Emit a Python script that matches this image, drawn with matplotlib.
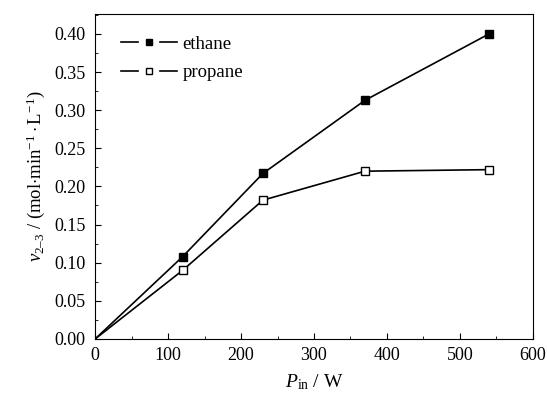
import matplotlib
matplotlib.use("Agg")
import matplotlib.pyplot as plt
from matplotlib.ticker import MultipleLocator, FormatStrFormatter
from matplotlib.legend_handler import HandlerBase
from matplotlib.lines import Line2D

plt.rcParams['font.family'] = ['Liberation Serif', 'DejaVu Serif']
plt.rcParams['mathtext.fontset'] = 'custom'
plt.rcParams['mathtext.rm'] = 'Liberation Serif'
plt.rcParams['mathtext.it'] = 'Liberation Serif:italic'

power = [0, 120, 230, 370, 540]
ethane = [0.0, 0.108, 0.217, 0.313, 0.400]
propane = [0.0, 0.090, 0.182, 0.220, 0.222]


class GapHandler(HandlerBase):
    def create_artists(self, legend, orig_handle, xdescent, ydescent,
                       width, height, fontsize, trans):
        y = height / 2 - ydescent
        x0 = -xdescent
        x1 = x0 + width
        xm = (x0 + x1) / 2
        gap = width * 0.2
        l1 = Line2D([x0, xm - gap], [y, y], color='black', lw=1.2)
        l2 = Line2D([xm + gap, x1], [y, y], color='black', lw=1.2)
        m = Line2D([xm], [y], marker='s', ms=4.2, mfc=orig_handle.get_markerfacecolor(),
                   mec='black', mew=1.0, ls='none')
        arts = [l1, l2, m]
        for a in arts:
            a.set_transform(trans)
        return arts


fig = plt.figure(figsize=(5.47, 4.03), dpi=100)
ax = fig.add_axes([0.174, 0.159, 0.800, 0.806])

h1, = ax.plot(power, ethane, color='black', lw=1.2, marker='s', ms=5.6,
              mfc='black', mec='black', markevery=[1, 2, 3, 4], label='ethane')
h2, = ax.plot(power, propane, color='black', lw=1.2, marker='s', ms=5.6,
              mfc='white', mec='black', markevery=[1, 2, 3, 4], label='propane')

ax.set_xlim(0, 600)
ax.set_ylim(0, 0.426)
ax.xaxis.set_major_locator(MultipleLocator(100))
ax.xaxis.set_minor_locator(MultipleLocator(50))
ax.yaxis.set_major_locator(MultipleLocator(0.05))
ax.yaxis.set_minor_locator(MultipleLocator(0.025))
ax.yaxis.set_major_formatter(FormatStrFormatter('%.2f'))
ax.tick_params(which='both', direction='in', top=False, right=False, labelsize=13)
ax.tick_params(axis='y', which='major', pad=7)
ax.tick_params(axis='x', which='major', pad=6)
ax.tick_params(which='major', length=4)
ax.tick_params(which='minor', length=2)

ax.set_xlabel(r'$P_{\rm in}$ / W', fontsize=14, labelpad=6)
ax.set_ylabel(r'$v_{2\endash 3}$ / (mol$\cdot$min$^{-1}\cdot$L$^{-1}$)'.replace(r'\endash ', '\u2013'),
              fontsize=13.5, labelpad=5)

leg = ax.legend(handles=[h1, h2], loc='upper left', frameon=False, fontsize=13.5,
                handlelength=3.0, bbox_to_anchor=(0.02, 0.985), labelspacing=0.6,
                handletextpad=0.3, handler_map={Line2D: GapHandler()})

fig.savefig('out.png', dpi=100)
